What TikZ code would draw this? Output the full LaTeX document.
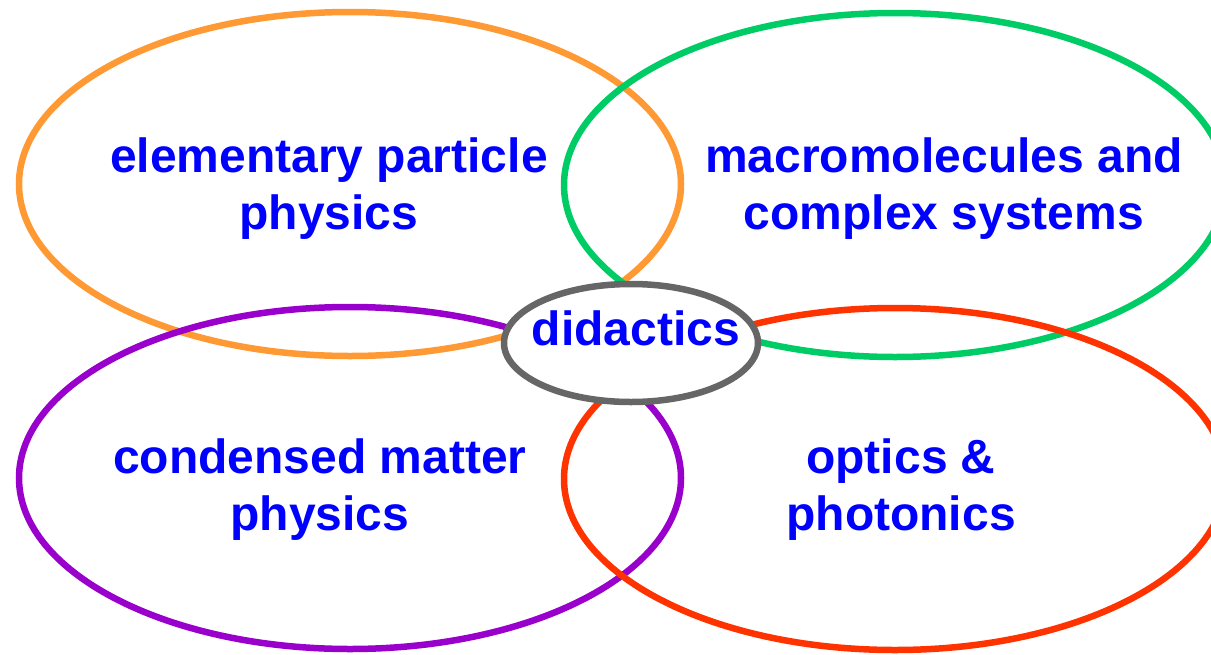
\documentclass[tikz,border=0pt]{standalone}
\usepackage{fontspec}
\setmainfont{Liberation Sans}
\definecolor{corange}{HTML}{FF9933}
\definecolor{cgreen}{HTML}{00CC66}
\definecolor{cpurple}{HTML}{9900CC}
\definecolor{cred}{HTML}{FF3300}
\definecolor{cgrey}{HTML}{666666}
\definecolor{cblue}{HTML}{0000FF}
\begin{document}
\begin{tikzpicture}[x=1pt,y=-1pt,
  ring/.style={line width=6.5pt},
  label/.style={text=cblue, font=\fontsize{48}{57}\selectfont\bfseries, align=center, inner sep=0pt}]
\useasboundingbox (0,0) rectangle (1211,654);
\clip (0,0) rectangle (1211,654);
\draw[ring, corange] (350,184) ellipse [x radius=331, y radius=172];
\draw[ring, cgreen] (895,185) ellipse [x radius=331, y radius=172];
\draw[ring, cpurple] (350,478) ellipse [x radius=331, y radius=171];
\draw[ring, cred] (895,479) ellipse [x radius=331, y radius=171];
\draw[line width=6.5pt, cgrey, fill=white] (631,343) ellipse [x radius=127, y radius=59];
\node[label] (epp) at (329,189) {elementary particle\\physics};
\node[label] (mcs) at (944,189) {macromolecules and\\complex systems};
\node[label] (cmp) at (320,490) {condensed matter\\physics};
\node[label] (op) at (901,490) {optics \&\\photonics};
\node[label] (did) at (636,328) {didactics};
\end{tikzpicture}
\end{document}
